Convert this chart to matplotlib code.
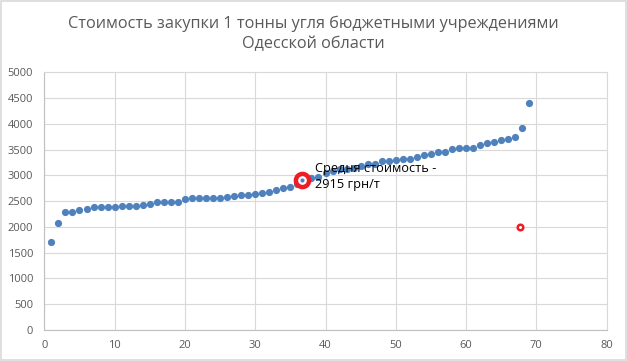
import matplotlib
matplotlib.use("Agg")
import matplotlib.pyplot as plt
from matplotlib.patches import Rectangle

plt.rcParams["font.family"] = ["Open Sans", "DejaVu Sans"]

# sorted purchase price per tonne, one point per institution
idx = list(range(1, 70))
price = [
    1700, 2070, 2280, 2280, 2320, 2340, 2380, 2380, 2380, 2380,
    2400, 2400, 2400, 2420, 2440, 2480, 2480, 2480, 2480, 2550,
    2560, 2570, 2570, 2570, 2570, 2580, 2600, 2610, 2620, 2630,
    2660, 2680, 2710, 2750, 2770, 2830, 2900, 2940, 2970, 3040,
    3090, 3120, 3120, 3140, 3190, 3230, 3230, 3270, 3270, 3290,
    3310, 3320, 3350, 3400, 3420, 3460, 3460, 3520, 3540, 3540,
    3540, 3590, 3620, 3640, 3680, 3700, 3750, 3910, 4400,
]
mean_x, mean_y = 36.6, 2915
extra_x, extra_y = 67.6, 2000

title = "Стоимость закупки 1 тонны угля бюджетными учреждениями\nОдесской области"
note = "Средня стоимость -\n2915 грн/т"

grey = "#595959"
grid_c = "#d9d9d9"

fig = plt.figure(figsize=(6.27, 3.61), dpi=100)
ax = fig.add_axes([0.0707, 0.0859, 0.8969, 0.7138])

ax.plot(idx, price, "o", color="#4F81BD", ms=5.2, mew=0, zorder=3)
ax.plot(mean_x, mean_y, "o", ms=9.5, mfc="white", mec="#EE1C25", mew=3.2, zorder=4)
ax.plot(mean_x, mean_y, "o", ms=3, color="#4F81BD", mew=0, zorder=5)
ax.plot(extra_x, extra_y, "o", ms=4, mfc="white", mec="#EE1C25", mew=1.8, zorder=4)

ax.text(38.5, 3250, note, fontsize=9.2, color="black", va="top", ha="left",
        linespacing=1.3, zorder=6)

ax.set_xlim(0, 80)
ax.set_ylim(0, 5000)
ax.set_xticks(range(0, 81, 10))
ax.set_yticks(range(0, 5001, 500))
ax.grid(True, color=grid_c, lw=0.8)
ax.set_axisbelow(True)
ax.tick_params(length=0, labelsize=8, labelcolor=grey)
ax.tick_params(axis="y", pad=8)
ax.tick_params(axis="x", pad=7)
for side in ("top", "right"):
    ax.spines[side].set_color(grid_c)
    ax.spines[side].set_linewidth(0.8)
for side in ("left", "bottom"):
    ax.spines[side].set_color("#bfbfbf")
    ax.spines[side].set_linewidth(0.8)

fig.text(0.5, 1 - 34 / 361, title, ha="center", va="center", fontsize=11.7,
         color=grey, linespacing=1.3)

fig.patches.append(Rectangle((0.001, 0.002), 0.997, 0.995, transform=fig.transFigure,
                             fill=False, edgecolor=grid_c, lw=1.2))

fig.savefig("out.png", dpi=100)
